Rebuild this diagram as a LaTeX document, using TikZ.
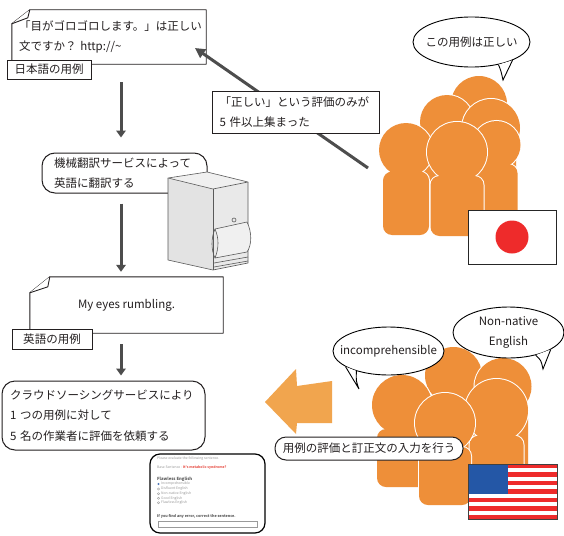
\documentclass[tikz,border=0pt]{standalone}
\usepackage{fontspec}
\newfontfamily\jp{Noto Sans CJK JP}
\usetikzlibrary{arrows.meta,shapes.geometric}

\definecolor{personorange}{HTML}{EE8F39}
\definecolor{arroworange}{HTML}{F1A54E}
\definecolor{arrowgray}{HTML}{4D4D4D}
\definecolor{flagred}{HTML}{EE2B2B}
\definecolor{flagblue}{HTML}{2457A6}
\definecolor{textdark}{HTML}{231F20}
\definecolor{servergray}{HTML}{5A5A5A}
\definecolor{formgray}{HTML}{9A9A9A}
\definecolor{formred}{HTML}{E8534A}

% one silhouette: head centre (#1,#2), head radius #3, body half width #4, body bottom #5
\newcommand\figperson[5]{%
  \draw[white, line width=2pt] (#1,#2) circle[radius=#3];
  \draw[white, line width=2pt, rounded corners=9pt]
    (#1-#4,#5) -- (#1-#4,#2+0.8*#3) -- (#1+#4,#2+0.8*#3) -- (#1+#4,#5) -- cycle;
  \fill[personorange] (#1,#2) circle[radius=#3];
  \fill[personorange, rounded corners=9pt]
    (#1-#4,#5) -- (#1-#4,#2+0.8*#3) -- (#1+#4,#2+0.8*#3) -- (#1+#4,#5) -- cycle;
}

\tikzset{
  txt/.style={font=\jp\fontsize{11.5pt}{20.5pt}\selectfont, text=textdark},
  labelbox/.style={txt, draw=textdark, line width=0.9pt, fill=white, inner sep=0pt},
  roundbox/.style={txt, draw=textdark, line width=1pt, fill=white, rounded corners=13pt, inner sep=0pt},
  notebody/.style={txt, inner sep=0pt},
  noteline/.style={draw=textdark, line width=0.9pt, fill=white, line join=round},
  flowarrow/.style={draw=arrowgray, line width=3pt, -{Triangle[length=7pt,width=9.5pt]}},
  bubble/.style={ellipse, draw=black, line width=0.9pt, fill=white, inner sep=0pt},
  bubbletail/.style={draw=black, line width=0.9pt, fill=white},
  servershape/.style={draw=servergray, line width=0.6pt, line join=round},
  formtext/.style={font=\jp\fontsize{3.4pt}{4pt}\selectfont, text=formgray, inner sep=0pt, anchor=west},
  formhead/.style={font=\jp\bfseries\fontsize{4.2pt}{5pt}\selectfont, text=black!65, inner sep=0pt, anchor=west},
  radio/.style={draw=formgray, line width=0.3pt},
}

\begin{document}
\begin{tikzpicture}[x=1pt, y=-1pt]
\useasboundingbox (0,0) rectangle (564,535);
\fill[white] (0,0) rectangle (564,535);

% ---------------- Japanese example note ----------------
\node[notebody, minimum width=194pt, minimum height=54pt] (jpnote) at (109,37) {};
\path[noteline] ([xshift=18pt]jpnote.north west) -- (jpnote.north east) -- (jpnote.south east)
  -- (jpnote.south west) -- ([yshift=-14pt]jpnote.north west) -- cycle;
\draw[noteline] ([xshift=18pt]jpnote.north west) -- ([xshift=16pt,yshift=-8pt]jpnote.north west)
  -- ([yshift=-14pt]jpnote.north west);
\node[notebody, text width=180pt, align=left]
  (jptext) at (jpnote) {「目がゴロゴロします。」は正しい\\文ですか？ http://\textasciitilde};
\node[labelbox, minimum width=84pt, minimum height=19pt] (jplabel) at (49,69.5) {日本語の用例};

% ---------------- machine translation ----------------
\node[roundbox, minimum width=165pt, minimum height=40pt, text width=141pt, align=left]
  (mt) at (124.5,173) {機械翻訳サービスによって\\英語に翻訳する};

% server
\fill[gray!22] (168,178) -- (213,189) -- (213,270) -- (168,260) -- cycle;
\fill[gray!12] (168,178) -- (207,172) -- (248,182) -- (213,189) -- cycle;
\fill[gray!17] (213,189) -- (248,182) -- (248,263) -- (213,270) -- cycle;
\draw[servershape] (168,178) -- (207,172) -- (248,182) -- (213,189) -- cycle;
\draw[servershape] (168,178) -- (168,260) -- (213,270) -- (248,263) -- (248,182);
\draw[servershape] (213,189) -- (213,270);
\draw[servershape, fill=gray!12] (215,229) -- (247,222) .. controls (252,232) and (252,245) .. (247,252)
  -- (215,258) .. controls (219,248) and (219,238) .. (215,229);
\draw[servershape] (215,229) .. controls (211,238) and (211,250) .. (215,258);
\draw[servershape] (214,263) -- (248,257);
\draw[servershape] (214,267) -- (248,261);
\draw[servershape] (234,220) circle[radius=2];

% ---------------- English example note ----------------
\node[notebody, minimum width=193pt, minimum height=56pt] (usnote) at (126.5,305) {};
\path[noteline] ([xshift=20pt]usnote.north west) -- (usnote.north east) -- (usnote.south east)
  -- (usnote.south west) -- ([yshift=-16pt]usnote.north west) -- cycle;
\draw[noteline] ([xshift=20pt]usnote.north west) -- ([xshift=18pt,yshift=-10pt]usnote.north west)
  -- ([yshift=-16pt]usnote.north west);
\node[notebody] (ustext) at (usnote) {My eyes rumbling.};
\node[labelbox, minimum width=80pt, minimum height=20pt] (uslabel) at (52,339) {英語の用例};

% ---------------- crowdsourcing request ----------------
\node[roundbox, minimum width=203pt, minimum height=69pt, text width=187pt, align=left]
  (crowd) at (103.5,415.5) {クラウドソーシングサービスにより\\1 つの用例に対して\\5 名の作業者に評価を依頼する};

% flow arrows
\coordinate (spine) at (121,0);
\draw[flowarrow, shorten <=18pt, shorten >=15pt] (jpnote.south -| spine) -- (mt.north -| spine);
\draw[flowarrow, shorten <=10pt, shorten >=5pt] (mt.south -| spine) -- (usnote.north -| spine);
\draw[flowarrow, shorten <=11pt, shorten >=5pt] (usnote.south -| spine) -- (crowd.north -| spine);

% ---------------- evaluation form ----------------
\node[draw=black, line width=1.2pt, rounded corners=10pt, fill=white, minimum width=115pt,
  minimum height=79pt, inner sep=0pt] (form) at (207.5,493.5) {};
\node[formtext] (f1) at (157,459) {Please evaluate the following sentence.};
\node[formtext] (f2) at (157,467) {Base Sentence : \textcolor{formred}{\bfseries It's metabolic syndrome?}};
\node[formhead] (f3) at (157,479) {Flawless English};
\fill[flagblue!80] (158.5,484) circle[radius=1.1];
\foreach \yy in {489,493.7,498.3,502.8} \draw[radio] (158.5,\yy) circle[radius=1.1];
\node[formtext] (o1) at (161,484) {Incomprehensible};
\node[formtext] (o2) at (161,489) {Disfluent English};
\node[formtext] (o3) at (161,493.7) {Non-native English};
\node[formtext] (o4) at (161,498.3) {Good English};
\node[formtext] (o5) at (161,502.8) {Flawless English};
\node[formhead, font=\jp\bfseries\fontsize{3.7pt}{4.5pt}\selectfont] (f4) at (157,516.5)
  {If you find any error, correct the sentence.};
\node[draw=formgray, line width=0.4pt, minimum width=99pt, minimum height=6.5pt, inner sep=0pt]
  (finput) at (207.5,524) {};

% ---------------- Japanese workers ----------------
\figperson{479}{104}{28}{25}{200}
\figperson{447}{122}{27}{24}{215}
\figperson{491}{128}{29}{25}{220}
\figperson{496.5}{145}{24}{21}{228}
\figperson{406}{150}{27}{23}{235}
\figperson{457}{152}{30}{26.5}{236}
\coordinate (jpvoice) at (368,168);
\coordinate (jptarget) at (195,48);
\draw[flowarrow, -{Triangle[length=10pt,width=10pt]}] (jpvoice) -- (jptarget);

\node[labelbox, minimum width=167pt, minimum height=42pt, text width=152pt, align=left]
  (agree) at (295.5,112) {「正しい」という評価のみが\\5 件以上集まった};

\node[bubble, minimum width=117pt, minimum height=50pt] (b1) at (471.5,42) {};
\draw[bubbletail] (b1.-40) .. controls (501,71) .. (503,80) .. controls (507,70) .. (b1.-24);
\node[txt, inner sep=0pt] (b1t) at (b1) {この用例は正しい};

\node[draw=black!85, line width=0.8pt, fill=white, minimum width=88pt, minimum height=54pt,
  inner sep=0pt] (jpflag) at (512,237) {};
\fill[flagred] (jpflag.center) circle[radius=16.5];

% ---------------- English workers ----------------
\fill[arroworange] (265,402) -- (296,369) -- (297,386) -- (332,381) -- (332,423)
  -- (297,423) -- (296,434) -- cycle;

\figperson{453.5}{375.5}{28.5}{25}{470}
\figperson{503}{386.5}{28.5}{25}{480}
\figperson{402}{405}{30}{25}{487}
\figperson{496.5}{410.5}{31.5}{27}{492}
\figperson{445}{423}{30}{26}{505}

\node[bubble, minimum width=111pt, minimum height=48pt] (b2) at (388.5,351) {};
\draw[bubbletail] (b2.-160) .. controls (352,378) .. (359,389) .. controls (356,381) .. (b2.-148);
\node[txt, inner sep=0pt] (b2t) at (b2) {incomprehensible};

\node[bubble, minimum width=111pt, minimum height=51pt] (b3) at (508.5,332.5) {};
\draw[bubbletail] (b3.-40) .. controls (541,360) .. (543,369) .. controls (547,360) .. (b3.-22);
\node[txt, inner sep=0pt, align=center] (b3t) at (b3) {Non-native\\English};

\node[roundbox, rounded corners=11pt, minimum width=188pt, minimum height=23pt]
  (evalbox) at (369,448.5) {用例の評価と訂正文の入力を行う};

% US flag
\fill[white] (468,464) rectangle (557,519);
\foreach \i in {0,2,...,12}
  \fill[flagred] (468,464+\i*4.2308) rectangle (557,464+\i*4.2308+4.2308);
\fill[flagblue] (468,464) rectangle (508,493.6);
\node[draw=black!75, line width=0.9pt, minimum width=89pt, minimum height=55pt, inner sep=0pt]
  (usflag) at (512.5,491.5) {};
\end{tikzpicture}
\end{document}
